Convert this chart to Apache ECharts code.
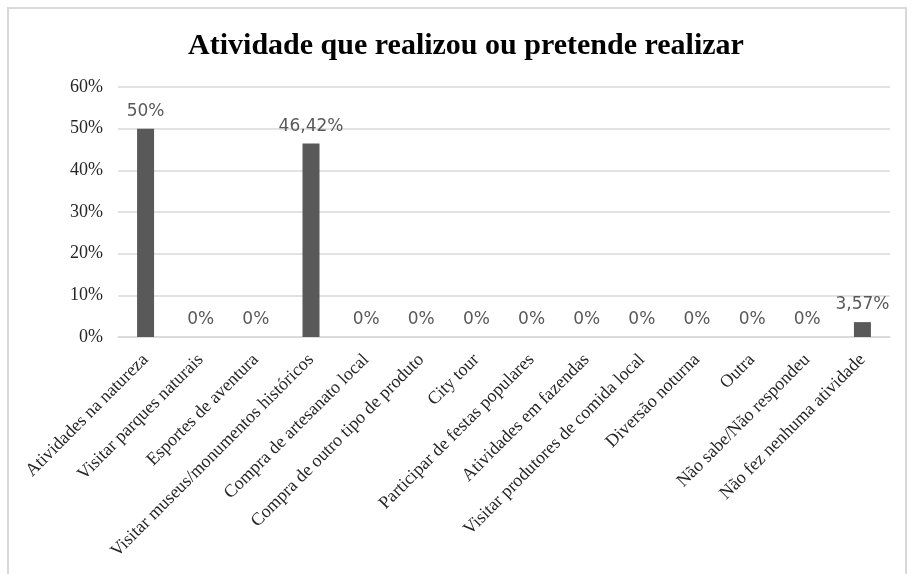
<!DOCTYPE html>
<html><head><meta charset="utf-8">
<script src="https://cdn.jsdelivr.net/npm/echarts@6/dist/echarts.min.js"></script>
<style>html,body{margin:0;padding:0;background:#fff}#c{width:913px;height:574px}</style>
</head><body><div id="c"></div>
<script>
var categories = ["Atividades na natureza","Visitar parques naturais","Esportes de aventura","Visitar museus/monumentos históricos","Compra de artesanato local","Compra de outro tipo de produto","City tour","Participar de festas populares","Atividades em fazendas","Visitar produtores de comida local","Diversão noturna","Outra","Não sabe/Não respondeu","Não fez nenhuma atividade"];
var values = [50,0,0,46.42,0,0,0,0,0,0,0,0,0,3.57];
var yTicks = [0,10,20,30,40,50,60];
var titleText = "Atividade que realizou ou pretende realizar";

var chart = echarts.init(document.getElementById('c'), null, {renderer:'canvas'});
chart.setOption({
  animation:false,
  backgroundColor:'#fff',
  title:{text:titleText,left:461,textAlign:'center',top:26,
    textStyle:{fontFamily:'"Liberation Serif","Times New Roman",serif',fontSize:30,fontWeight:'bold',color:'#000'}},
  graphic:[{type:'rect',shape:{x:8,y:8,width:898,height:620},style:{fill:null,stroke:'#d9d9d9',lineWidth:2},silent:true}],
  grid:{left:118,right:23,top:87,bottom:237},
  xAxis:{type:'category',data:categories,
    axisLine:{lineStyle:{color:'#d9d9d9',width:1.5}},axisTick:{show:false},
    axisLabel:{rotate:45,interval:0,margin:20,fontFamily:'"Liberation Serif","Times New Roman",serif',fontSize:18,color:'#262626'}},
  yAxis:{type:'value',min:yTicks[0],max:yTicks[yTicks.length-1],interval:10,
    axisLine:{show:false},axisTick:{show:false},
    splitLine:{lineStyle:{color:'#d9d9d9',width:1.5}},
    axisLabel:{formatter:function(v){return v+'%';},margin:15,fontFamily:'"Liberation Serif","Times New Roman",serif',fontSize:18,color:'#262626'}},
  series:[{type:'bar',data:values,barWidth:17,itemStyle:{color:'#595959'},
    label:{show:true,position:'top',distance:9,fontFamily:'"DejaVu Sans","Noto Sans",sans-serif',fontSize:17,color:'#595959',
      formatter:function(p){return String(p.value).replace('.',',')+'%';}}}]
});
</script></body></html>
